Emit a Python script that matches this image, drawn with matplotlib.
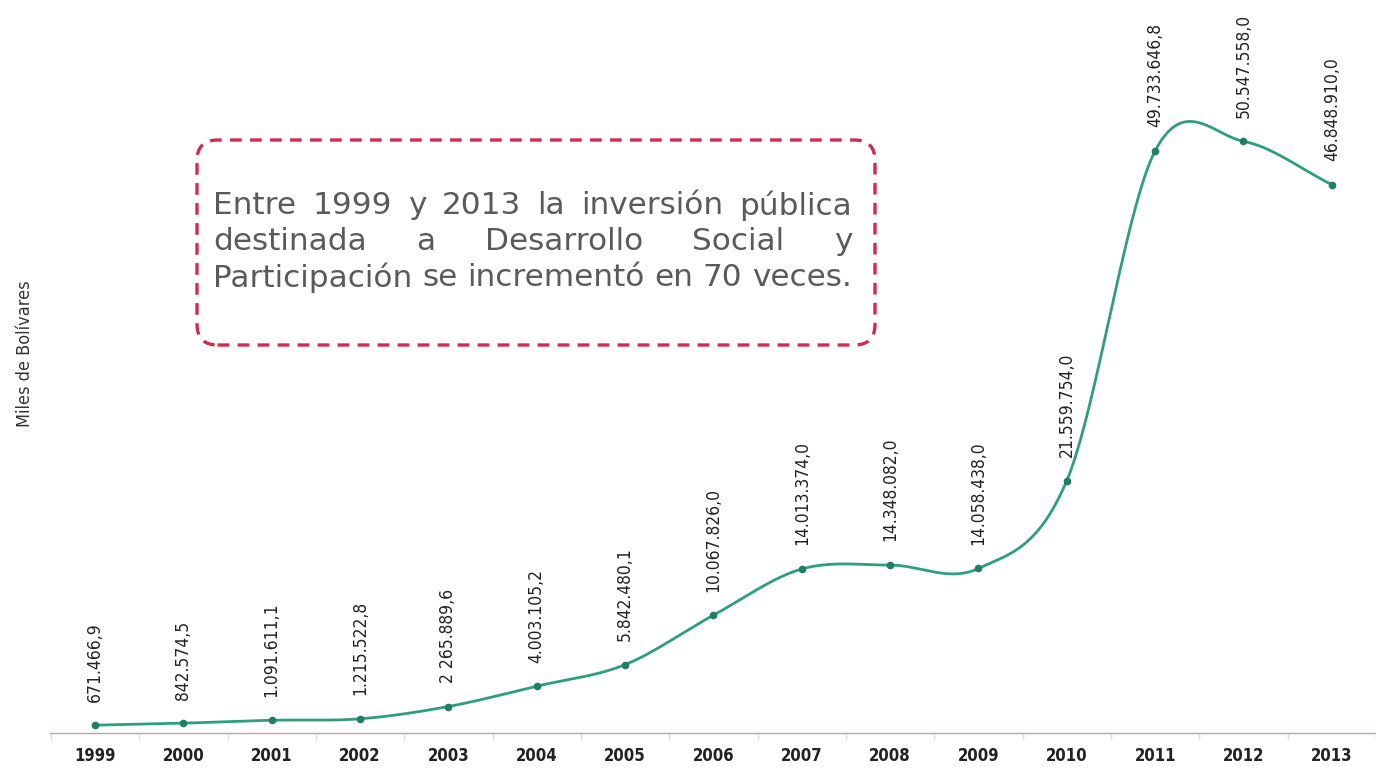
import numpy as np
import matplotlib
matplotlib.use("Agg")
import matplotlib.pyplot as plt
from matplotlib.patches import FancyBboxPatch

years = [1999, 2000, 2001, 2002, 2003, 2004, 2005, 2006, 2007, 2008, 2009, 2010, 2011, 2012, 2013]
values = [671466.9, 842574.5, 1091611.1, 1215522.8, 2265889.6, 4003105.2, 5842480.1,
          10067826.0, 14013374.0, 14348082.0, 14058438.0, 21559754.0, 49733646.8,
          50547558.0, 46848910.0]
value_labels = ["671.466,9", "842.574,5", "1.091.611,1", "1.215.522,8", "2 265.889,6",
                "4.003.105,2", "5.842.480,1", "10.067.826,0", "14.013.374,0", "14.348.082,0",
                "14.058.438,0", "21.559.754,0", "49.733.646,8", "50.547.558,0", "46.848.910,0"]
ylabel = "Miles de Bolívares"
note_lines = ["Entre 1999 y 2013 la inversión pública",
              "destinada a Desarrollo Social y",
              "Participación se incrementó en 70 veces."]

LINE = "#2f9e80"
MARK = "#1f7f62"
COND = dict(family="DejaVu Sans", fontstretch="condensed")


def catmull_rom(x, y, n=40):
    x = np.asarray(x, float)
    y = np.asarray(y, float)
    xs, ys = [], []
    N = len(x)
    m = np.zeros(N)
    for i in range(N):
        if i == 0:
            m[i] = (y[1] - y[0]) / (x[1] - x[0])
        elif i == N - 1:
            m[i] = (y[-1] - y[-2]) / (x[-1] - x[-2])
        else:
            m[i] = (y[i + 1] - y[i - 1]) / (x[i + 1] - x[i - 1])
    for i in range(N - 1):
        h = x[i + 1] - x[i]
        t = np.linspace(0, 1, n, endpoint=(i == N - 2))
        h00 = 2 * t**3 - 3 * t**2 + 1
        h10 = t**3 - 2 * t**2 + t
        h01 = -2 * t**3 + 3 * t**2
        h11 = t**3 - t**2
        xs.append(x[i] + t * h)
        ys.append(h00 * y[i] + h10 * h * m[i] + h01 * y[i + 1] + h11 * h * m[i + 1])
    return np.concatenate(xs), np.concatenate(ys)


fig = plt.figure(figsize=(13.76, 7.73), dpi=100)
ax = fig.add_axes([0.0363, 0.0517, 0.9637, 0.948])

sx, sy = catmull_rom(years, values)
ax.plot(sx, sy, color=LINE, lw=2.0, solid_capstyle="round", zorder=3)
ax.plot(years, values, "o", color=MARK, ms=4.5, zorder=4)

for xv, yv, lab in zip(years, values, value_labels):
    ax.annotate(lab, (xv, yv), xytext=(0, 17), textcoords="offset points",
                rotation=90, ha="center", va="bottom", fontsize=12.5,
                color="#222222", **COND)

ax.set_xlim(1998.49, 2013.44)
ax.set_ylim(0, 62.6e6)
ax.set_yticks([])
ax.set_xticks(years)
ax.set_xticklabels([str(y) for y in years], fontsize=12, color="#222222",
                   fontweight="bold", **COND)
ax.set_xticks(np.arange(1998.5, 2013.6, 1.0), minor=True)
ax.tick_params(axis="x", which="major", length=0, pad=10)
ax.tick_params(axis="x", which="minor", length=5, color="#dddddd", width=1)
for s in ["top", "right", "left"]:
    ax.spines[s].set_visible(False)
ax.spines["bottom"].set_color("#b8a8a8")
ax.spines["bottom"].set_linewidth(1.0)

fig.text(0.0185, 0.543, ylabel, rotation=90, ha="center", va="center",
         fontsize=13, color="#333333", **COND)

# Annotation box (figure pixel coords)
W, H = 1376, 773
box = FancyBboxPatch((197 / W, (H - 345) / H), (875 - 197) / W, (345 - 140) / H,
                     boxstyle="round,pad=0,rounding_size=0.015",
                     transform=fig.transFigure, fill=False, edgecolor="#d42a50",
                     linestyle=(0, (3.5, 2.5)), linewidth=2.4, mutation_aspect=W / H,
                     zorder=5)
fig.add_artist(box)

fig.canvas.draw()
renderer = fig.canvas.get_renderer()
x_left, x_right = 213, 852
line_y = [206, 242, 278]
fam = ["DejaVu Sans"]
probe = fig.text(0, 0, note_lines[2], fontsize=20, family=fam)
pw = probe.get_window_extent(renderer).width
probe.remove()
fsize = 20 * (x_right - x_left) / pw
fprops = dict(fontsize=fsize, family=fam, color="#5a5a5a", va="center")
for line, yy in zip(note_lines, line_y):
    words = line.split(" ")
    texts = [fig.text(0, 1 - yy / H, w, ha="left", **fprops) for w in words]
    widths = [t.get_window_extent(renderer).width for t in texts]
    gap = (x_right - x_left - sum(widths)) / (len(words) - 1) if len(words) > 1 else 0
    cx = x_left
    for t, w in zip(texts, widths):
        t.set_x(cx / W)
        cx += w + gap

fig.savefig("out.png", dpi=100)
